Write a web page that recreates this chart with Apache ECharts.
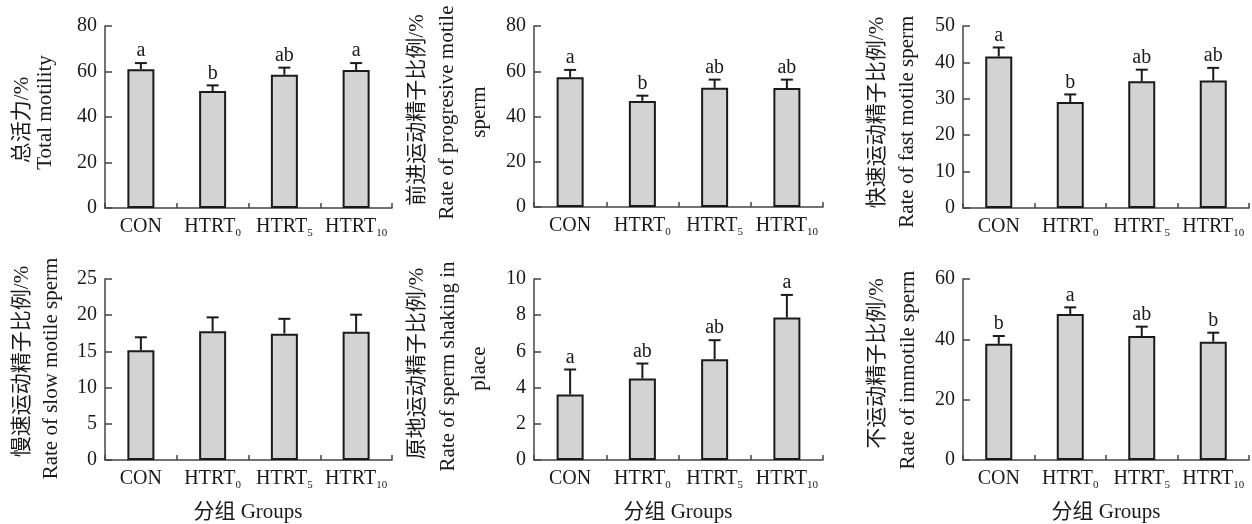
<!DOCTYPE html>
<html>
<head>
<meta charset="utf-8">
<script src="https://cdn.jsdelivr.net/npm/echarts@6/dist/echarts.min.js"></script>
<style>
html,body{margin:0;padding:0;background:#fff;}
#chart{width:1252px;height:524px;}
</style>
</head>
<body>
<div id="chart"></div>
<script>
// ---- data ----
const categories = ['CON', 'HTRT0', 'HTRT5', 'HTRT10'];

const totalMotility = [61.0, 51.4, 58.6, 60.7];
const totalMotilitySD = [2.7, 2.5, 3.1, 3.0];
const totalMotilityLetters = ['a', 'b', 'ab', 'a'];

const progressive = [57.3, 46.9, 52.7, 52.6];
const progressiveSD = [3.3, 2.3, 3.6, 3.7];
const progressiveLetters = ['a', 'b', 'ab', 'ab'];

const fastMotile = [41.6, 29.1, 34.8, 35.0];
const fastMotileSD = [2.5, 2.1, 3.2, 3.5];
const fastMotileLetters = ['a', 'b', 'ab', 'ab'];

const slowMotile = [15.15, 17.8, 17.45, 17.7];
const slowMotileSD = [1.8, 1.9, 2.05, 2.37];
const slowMotileLetters = ['', '', '', ''];

const shaking = [3.62, 4.5, 5.57, 7.87];
const shakingSD = [1.38, 0.83, 1.05, 1.25];
const shakingLetters = ['a', 'ab', 'ab', 'a'];

const immotile = [38.5, 48.4, 41.1, 39.2];
const immotileSD = [2.6, 2.2, 3.1, 3.0];
const immotileLetters = ['b', 'a', 'ab', 'b'];

const yMax = [80, 80, 50, 25, 10, 60];
const yInterval = [20, 20, 10, 5, 2, 20];

const xAxisTitle = '分组 Groups';
const yTitles = [
  ['总活力/%', 'Total motility'],
  ['前进运动精子比例/%', 'Rate of progresive motile', 'sperm'],
  ['快速运动精子比例/%', 'Rate of fast motile sperm'],
  ['慢速运动精子比例/%', 'Rate of slow motile sperm'],
  ['原地运动精子比例/%', 'Rate of sperm shaking in', 'place'],
  ['不运动精子比例/%', 'Rate of immotile sperm']
];

// ---- layout (styles / positions) ----
const panels = [
  {means: totalMotility, sd: totalMotilitySD, letters: totalMotilityLetters},
  {means: progressive, sd: progressiveSD, letters: progressiveLetters},
  {means: fastMotile, sd: fastMotileSD, letters: fastMotileLetters},
  {means: slowMotile, sd: slowMotileSD, letters: slowMotileLetters},
  {means: shaking, sd: shakingSD, letters: shakingLetters},
  {means: immotile, sd: immotileSD, letters: immotileLetters}
];
const gridBoxes = [
  {left: 105, top: 26, width: 287, height: 182},
  {left: 534, top: 26, width: 289, height: 181},
  {left: 963, top: 26, width: 286, height: 182},
  {left: 105, top: 279, width: 287, height: 181},
  {left: 534, top: 279, width: 289, height: 181},
  {left: 963, top: 279, width: 286, height: 181}
];
const yTitlePos = [
  [[22, 120], [45, 112.5]],
  [[417, 110], [447, 112.5], [479, 112]],
  [[877, 112.5], [907, 121.7]],
  [[22, 361.5], [51, 368.5]],
  [[417, 363.5], [448, 366.5], [479, 368.5]],
  [[877, 363.5], [908, 370]]
];
const xTitlePos = [[248, 512], [678, 512], [1106, 512]];

const FONT = '"Liberation Serif", "Times New Roman", "Noto Sans CJK SC", serif';
const INK = '#1a1a1a';
const AXIS = '#444';

const chart = echarts.init(document.getElementById('chart'), null, {renderer: 'canvas'});

const grid = [], xAxis = [], yAxis = [], series = [], graphic = [];

panels.forEach((p, i) => {
  grid.push(Object.assign({containLabel: false}, gridBoxes[i]));
  xAxis.push({
    type: 'category', gridIndex: i, data: categories,
    axisLine: {lineStyle: {color: AXIS, width: 1.5}},
    axisTick: {show: true, inside: true, length: 5, interval: 0, lineStyle: {color: AXIS, width: 1.5}},
    axisLabel: {
      interval: 0, hideOverlap: false,
      margin: 7, color: INK, fontFamily: FONT, fontSize: 20,
      formatter: function (v) {
        const m = v.match(/^([A-Z]+)(\d+)$/);
        if (m) return '{m|' + m[1] + '}{s|' + m[2] + '}';
        return '{m|' + v + '}';
      },
      rich: {
        m: {fontSize: 20, fontFamily: FONT, color: INK, lineHeight: 24},
        s: {fontSize: 11, fontFamily: FONT, color: INK, lineHeight: 8, verticalAlign: 'bottom'}
      }
    },
    splitLine: {show: false}
  });
  yAxis.push({
    type: 'value', gridIndex: i, min: 0, max: yMax[i], interval: yInterval[i],
    axisLine: {show: true, lineStyle: {color: AXIS, width: 1.5}},
    axisTick: {show: true, inside: true, length: 7, lineStyle: {color: AXIS, width: 1.5}},
    axisLabel: {margin: 8, color: INK, fontFamily: FONT, fontSize: 20},
    splitLine: {show: false}
  });
  series.push({
    type: 'bar', xAxisIndex: i, yAxisIndex: i, data: p.means, barWidth: 27,
    itemStyle: {color: '#d3d3d3', borderColor: INK, borderWidth: 2},
    silent: true, z: 3
  });
  const errData = p.means.map((m, k) => [k, m, m + p.sd[k]]);
  series.push({
    type: 'custom', xAxisIndex: i, yAxisIndex: i, data: errData, z: 2, silent: true,
    renderItem: function (params, api) {
      const x = api.value(0), m = api.value(1), t = api.value(2);
      const p0 = api.coord([x, m]);
      const p1 = api.coord([x, t]);
      const st = {stroke: INK, lineWidth: 2};
      const children = [
        {type: 'line', shape: {x1: p0[0], y1: p0[1], x2: p1[0], y2: p1[1]}, style: st},
        {type: 'line', shape: {x1: p1[0] - 6, y1: p1[1], x2: p1[0] + 6, y2: p1[1]}, style: st}
      ];
      const lab = p.letters[params.dataIndex];
      if (lab) {
        children.push({
          type: 'text',
          style: {text: lab, x: p1[0], y: p1[1] - 2, align: 'center', verticalAlign: 'bottom',
                  fill: INK, font: '20px ' + FONT}
        });
      }
      return {type: 'group', children: children};
    }
  });
  yTitles[i].forEach((t, k) => {
    graphic.push({
      type: 'text', x: yTitlePos[i][k][0], y: yTitlePos[i][k][1], rotation: Math.PI / 2,
      style: {text: t, align: 'center', verticalAlign: 'middle', fill: INK, font: '21px ' + FONT}
    });
  });
});

xTitlePos.forEach(pos => {
  graphic.push({
    type: 'text', x: pos[0], y: pos[1],
    style: {text: xAxisTitle, align: 'center', verticalAlign: 'middle', fill: INK, font: '21px ' + FONT}
  });
});

chart.setOption({
  animation: false,
  backgroundColor: '#fff',
  grid: grid, xAxis: xAxis, yAxis: yAxis, series: series, graphic: graphic
});
</script>
</body>
</html>
